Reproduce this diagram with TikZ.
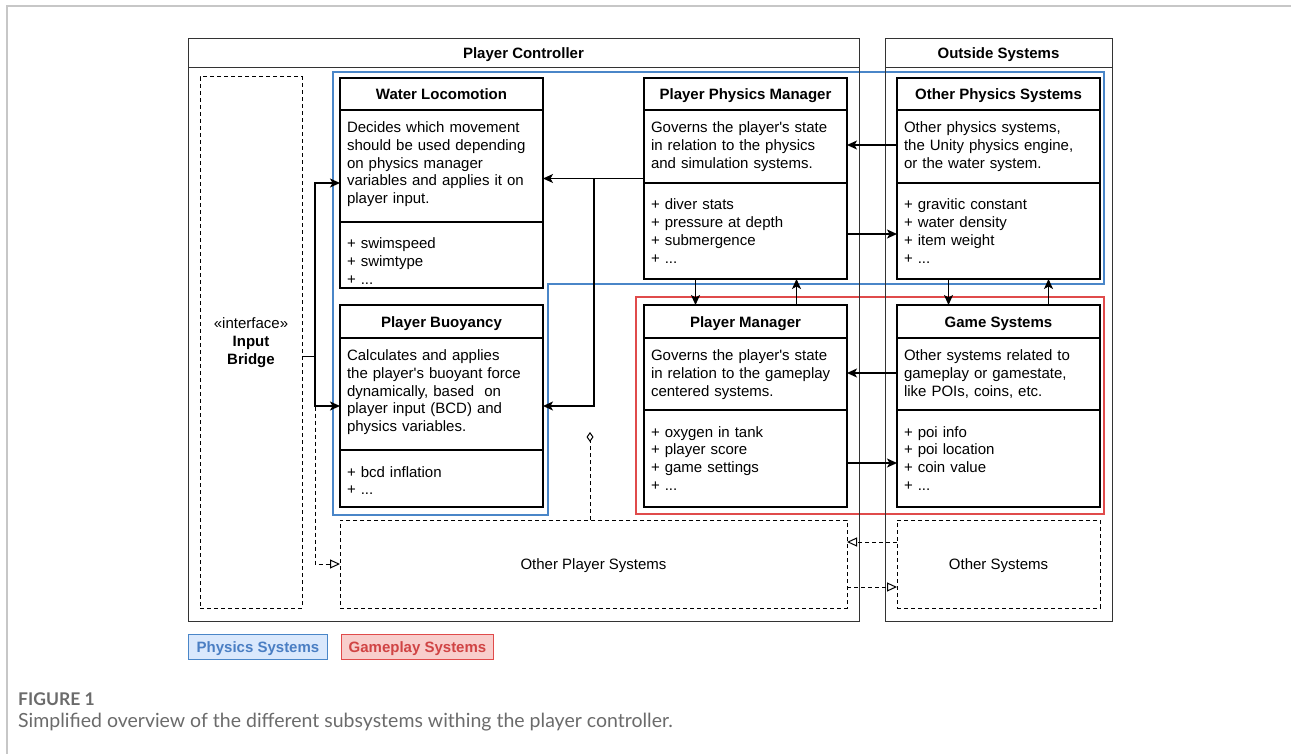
\documentclass[tikz,border=0pt]{standalone}
\usepackage{fontspec}
\setmainfont{Liberation Sans}[Ligatures=TeXOff]
\newfontfamily\captionfont{Lato}
\usetikzlibrary{positioning, arrows.meta}
\definecolor{physblue}{HTML}{4A86C8}
\definecolor{physfill}{HTML}{DAE8FC}
\definecolor{phystext}{HTML}{4A7EC3}
\definecolor{gamered}{HTML}{E04B4B}
\definecolor{gamefill}{HTML}{F8CECC}
\definecolor{gametext}{HTML}{D04444}
\definecolor{capgray}{HTML}{6B6B6B}
\tikzset{
    >={Stealth[length=10pt, width=9pt, inset=2.5pt]}, % filled heads like the drawio ones
    boxlabel/.style={text height=11pt, text depth=0pt}, % same baseline with or without descenders
    framehead/.style={rectangle, draw=black!80, line width=1pt, inner sep=0pt, outer sep=0pt, boxlabel, font=\fontsize{15}{17.8}\selectfont\bfseries},
    framebox/.style={rectangle, draw=black!80, line width=1pt, inner sep=0pt, outer sep=0pt},
    classbox/.style={rectangle, draw, fill=white, line width=1.2pt, minimum width=203pt, inner sep=0pt, outer sep=0pt},
    classhead/.style={rectangle, draw, line width=1.2pt, minimum width=203pt, inner sep=0pt, outer sep=0pt, boxlabel, font=\fontsize{15}{17.8}\selectfont\bfseries},
    classtext/.style={rectangle, draw, line width=1.2pt, text width=189pt, inner xsep=7pt, inner ysep=0pt, outer sep=0pt, align=left},
    bodytext/.style={classtext, text height=22.5pt}, % top aligned, first baseline 22.5pt down
    attrtext/.style={classtext, text height=27pt},
    dashbox/.style={rectangle, draw, dash pattern=on 4pt off 3pt, line width=1pt, inner sep=0pt, outer sep=0pt},
    link/.style={->, line width=1.3pt},
    dashlink/.style={-{Triangle[open, length=10pt, width=9pt]}, dash pattern=on 4pt off 3pt, line width=1pt},
    aggregation/.style={-{Diamond[open, length=10pt, width=7pt]}, dash pattern=on 4pt off 3pt, line width=1pt},
    physregion/.style={draw=physblue, line width=2.5pt},
    gameregion/.style={draw=gamered, line width=2.5pt},
    legend/.style={rectangle, line width=1pt, inner sep=0pt, minimum height=25pt, boxlabel, font=\fontsize{15}{17.8}\selectfont\bfseries},
}
\begin{document}
\begin{tikzpicture}[x=1pt, y=-1pt, font=\fontsize{15}{17.8}\selectfont]
        \useasboundingbox (0,0) rectangle (1291,754);
        % Page border
        \draw[draw=black!22, line width=1.5pt] (7,754) -- (7,6) -- (1291,6);

        % Regions
        \draw[physregion] (333,72) -- (1104,72) -- (1104,284) -- (548,284) -- (548,515) -- (333,515) -- cycle;
        \draw[gameregion] (636,297) rectangle (1104,514);

        % Frames
        \node[framehead, minimum width=671pt, minimum height=29pt, anchor=north west] (PChead) at (188,39) {Player Controller};
        \node[framebox, minimum width=671pt, minimum height=553pt, below=0pt of PChead] (PC) {};
        \node[framehead, minimum width=227pt, minimum height=29pt, anchor=north west] (OShead) at (885,39) {Outside Systems};
        \node[framebox, minimum width=227pt, minimum height=553pt, below=0pt of OShead] (OS) {};

        % Nodes
        \node[dashbox, minimum width=102pt, minimum height=531pt, anchor=north west, align=center] (IB) at (200,77) {«interface»\\\textbf{Input}\\\textbf{Bridge}};

        \node[classbox, minimum height=210pt, anchor=north west] (WL) at (340,78) {};
        \node[classhead, minimum height=32pt, anchor=north] (WLhead) at (WL.north) {Water Locomotion};
        \node[bodytext, text depth=89.5pt, below=0pt of WLhead] (WLbody) {Decides which movement\\should be used depending\\on physics manager\\variables and applies it on\\player input.};
        \node[attrtext, text depth=39pt, below=0pt of WLbody] (WLattr) {+ swimspeed\\+ swimtype\\+ ...};

        \node[classbox, minimum height=201pt, right=101pt of WL.north east, anchor=north west] (PPM) {};
        \node[classhead, minimum height=32pt, anchor=north] (PPMhead) at (PPM.north) {Player Physics Manager};
        \node[bodytext, text depth=50.5pt, below=0pt of PPMhead] (PPMbody) {Governs the player's state\\in relation to the physics\\and simulation systems.};
        \node[attrtext, text depth=69pt, below=0pt of PPMbody] (PPMattr) {+ diver stats\\+ pressure at depth\\+ submergence\\+ ...};

        \node[classbox, minimum height=201pt, right=50pt of PPM] (OPS) {};
        \node[classhead, minimum height=32pt, anchor=north] (OPShead) at (OPS.north) {Other Physics Systems};
        \node[bodytext, text depth=50.5pt, below=0pt of OPShead] (OPSbody) {Other physics systems,\\the Unity physics engine,\\or the water system.};
        \node[attrtext, text depth=69pt, below=0pt of OPSbody] (OPSattr) {+ gravitic constant\\+ water density\\+ item weight\\+ ...};

        \node[classbox, minimum height=202pt, below=17pt of WL] (PB) {};
        \node[classhead, minimum height=33pt, anchor=north] (PBhead) at (PB.north) {Player Buoyancy};
        \node[bodytext, text depth=89.5pt, below=0pt of PBhead] (PBbody) {Calculates and applies\\the player's buoyant force\\dynamically, based\ \ on\\player input (BCD) and\\physics variables.};
        \node[attrtext, text depth=30pt, below=0pt of PBbody] (PBattr) {+ bcd inflation\\+ ...};

        \node[classbox, minimum height=202pt, below=26pt of PPM] (PM) {};
        \node[classhead, minimum height=33pt, anchor=north] (PMhead) at (PM.north) {Player Manager};
        \node[bodytext, text depth=49.5pt, below=0pt of PMhead] (PMbody) {Governs the player's state\\in relation to the gameplay\\centered systems.};
        \node[attrtext, text depth=70pt, below=0pt of PMbody] (PMattr) {+ oxygen in tank\\+ player score\\+ game settings\\+ ...};

        \node[classbox, minimum height=202pt, below=26pt of OPS] (GS) {};
        \node[classhead, minimum height=33pt, anchor=north] (GShead) at (GS.north) {Game Systems};
        \node[bodytext, text depth=49.5pt, below=0pt of GShead] (GSbody) {Other systems related to\\gameplay or gamestate,\\like POIs, coins, etc.};
        \node[attrtext, text depth=70pt, below=0pt of GSbody] (GSattr) {+ poi info\\+ poi location\\+ coin value\\+ ...};

        \node[dashbox, boxlabel, minimum width=507pt, minimum height=88pt, anchor=north west] (OthPS) at (340,520) {Other Player Systems};
        \node[dashbox, boxlabel, minimum width=203pt, minimum height=88pt, anchor=north west] (OthS) at (897,520) {Other Systems};

        % Legend
        \node[legend, draw=physblue, fill=physfill, text=phystext, minimum width=139pt, anchor=north west] (LegPhys) at (188,634) {Physics Systems};
        \node[legend, draw=gamered, fill=gamefill, text=gametext, minimum width=152pt, right=13pt of LegPhys] (LegGame) {Gameplay Systems};

        % Caption
        \node[anchor=west, inner sep=0pt, text=capgray, font=\captionfont\fontsize{17.5}{20}\selectfont\bfseries] (FigLabel) at (18,699) {FIGURE 1};
        \node[anchor=west, inner sep=0pt, text=capgray, font=\captionfont\fontsize{19.5}{24}\selectfont] (FigText) at (18,722) {Simplified overview of the different subsystems withing the player controller.};

        % Draw lines
        \draw[dashlink] ([yshift=-14pt]IB.east) -| ([xshift=-25pt]OthPS.west) -- (OthPS.west);
        \draw[link] ([yshift=-14pt]IB.east) -| ([xshift=-25pt]WL.west) -- (WL.west);
        \draw[link] ([yshift=-14pt]IB.east) -| ([xshift=-25pt]PB.west) -- (PB.west);

        \draw[link] (PPM.west) -- (PPM.west -| WL.east);
        \draw[link] (PPM.west) -| ([xshift=51pt]PB.east) -- (PB.east);

        \draw[link] ([yshift=33.5pt]OPS.west) -- ([yshift=33.5pt]PPM.east);
        \draw[link] ([yshift=-55.5pt]PPM.east) -- ([yshift=-55.5pt]OPS.west);
        \draw[link] ([xshift=-50pt]PPM.south) -- ([xshift=-50pt]PM.north);
        \draw[link] ([xshift=51pt]PM.north) -- ([xshift=51pt]PPM.south);
        \draw[link] ([xshift=-50pt]OPS.south) -- ([xshift=-50pt]GS.north);
        \draw[link] ([xshift=50pt]GS.north) -- ([xshift=50pt]OPS.south);
        \draw[link] ([yshift=33pt]GS.west) -- ([yshift=33pt]PM.east);
        \draw[link] ([yshift=-57pt]PM.east) -- ([yshift=-57pt]GS.west);

        \draw[dashlink] ([yshift=22pt]OthS.west) -- ([yshift=22pt]OthPS.east);
        \draw[dashlink] ([yshift=-23pt]OthPS.east) -- ([yshift=-23pt]OthS.west);
        \coordinate (agg) at (590,432);
        \draw[aggregation] (OthPS.north -| agg) -- (agg);
\end{tikzpicture}
\end{document}
